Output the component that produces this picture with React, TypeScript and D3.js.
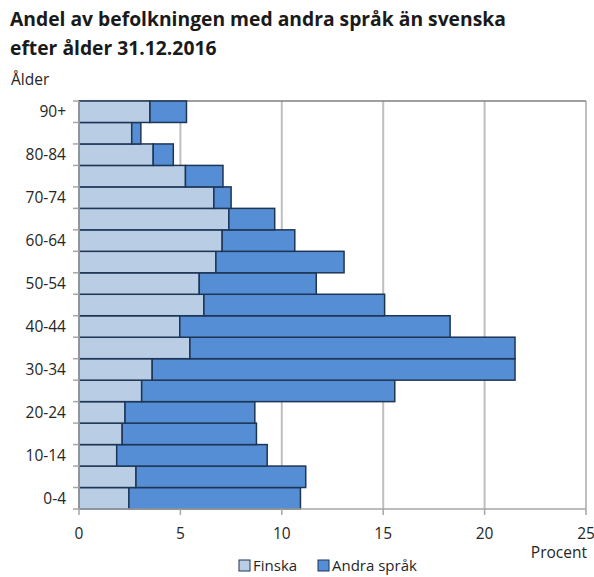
import React from "react";
import * as d3 from "d3";

const categories = ["0-4","5-9","10-14","15-19","20-24","25-29","30-34","35-39","40-44","45-49","50-54","55-59","60-64","65-69","70-74","75-79","80-84","85-89","90+"];
const finska = [2.46,2.81,1.86,2.13,2.27,3.09,3.61,5.47,4.97,6.16,5.93,6.75,7.06,7.39,6.65,5.25,3.66,2.6,3.5];
const total = [10.92,11.18,9.28,8.75,8.67,15.57,21.5,21.5,18.3,15.07,11.7,13.07,10.64,9.65,7.5,7.1,4.65,3.05,5.3];
const andra = total.map((t, i) => +(t - finska[i]).toFixed(2));
const yLabels = ["0-4","10-14","20-24","30-34","40-44","50-54","60-64","70-74","80-84","90+"];
const xTicks = [0,5,10,15,20,25];

const W = 594, H = 577;
const FONT = "'Open Sans', 'Liberation Sans', sans-serif";

export default function App() {
  const left = 79, right = 586, top = 101, bottom = 509;
  const x = d3.scaleLinear().domain([0, 25]).range([left, right]);
  const y = d3.scaleBand().domain([...categories].reverse()).range([top, bottom]).paddingInner(0).paddingOuter(0);
  const bw = y.bandwidth();
  const stroke = "#1e3656";
  return (
    <svg width={W} height={H} style={{ position: "absolute", left: 0, top: 0, background: "#fff" }} fontFamily={FONT}>
      <text x={10} y={26} fontSize={19.3} fontWeight="bold" fill="#1a1a1a">Andel av befolkningen med andra språk än svenska</text>
      <text x={10} y={55} fontSize={19.3} fontWeight="bold" fill="#1a1a1a">efter ålder 31.12.2016</text>
      <text x={11} y={85} fontSize={15.5} fill="#262626">Ålder</text>
      {/* grid */}
      {xTicks.slice(1).map(t => (
        <line key={t} x1={x(t)} x2={x(t)} y1={top} y2={bottom} stroke="#bfbfbf" strokeWidth={2} />
      ))}
      <line x1={left} x2={right} y1={top} y2={top} stroke="#7f7f7f" strokeWidth={1.5} />
      {/* bars */}
      {categories.map((c, i) => (
        <g key={c}>
          <rect x={x(0)} y={y(c)!} width={x(finska[i]) - x(0)} height={bw} fill="#b9cde5" stroke={stroke} strokeWidth={1.5} />
          <rect x={x(finska[i])} y={y(c)!} width={x(finska[i] + andra[i]) - x(finska[i])} height={bw} fill="#558ed5" stroke={stroke} strokeWidth={1.5} />
        </g>
      ))}
      {/* axes */}
      <line x1={left} x2={left} y1={top} y2={bottom} stroke="#a6a6a6" strokeWidth={1.5} />
      <line x1={left} x2={right} y1={bottom} y2={bottom} stroke="#a6a6a6" strokeWidth={1.5} />
      {d3.range(categories.length + 1).map(k => (
        <line key={k} x1={left - 6} x2={left} y1={top + k * bw} y2={top + k * bw} stroke="#a6a6a6" strokeWidth={1.5} />
      ))}
      {xTicks.map(t => (
        <g key={t}>
          <line x1={x(t)} x2={x(t)} y1={bottom} y2={bottom + 6} stroke="#a6a6a6" strokeWidth={1.5} />
          <text x={x(t)} y={539} fontSize={15.5} textAnchor="middle" fill="#262626">{t}</text>
        </g>
      ))}
      {yLabels.map(l => (
        <text key={l} x={66} y={y(l)! + bw / 2 + 5.5} fontSize={15.5} textAnchor="end" fill="#262626">{l}</text>
      ))}
      <text x={587} y={558} fontSize={15.5} textAnchor="end" fill="#262626">Procent</text>
      {/* legend */}
      <rect x={239} y={560} width={11} height={11} fill="#b9cde5" stroke={stroke} strokeWidth={1} />
      <text x={253} y={571} fontSize={15} fill="#262626">Finska</text>
      <rect x={318} y={560} width={11} height={11} fill="#558ed5" stroke={stroke} strokeWidth={1} />
      <text x={332} y={571} fontSize={15} fill="#262626">Andra språk</text>
    </svg>
  );
}
